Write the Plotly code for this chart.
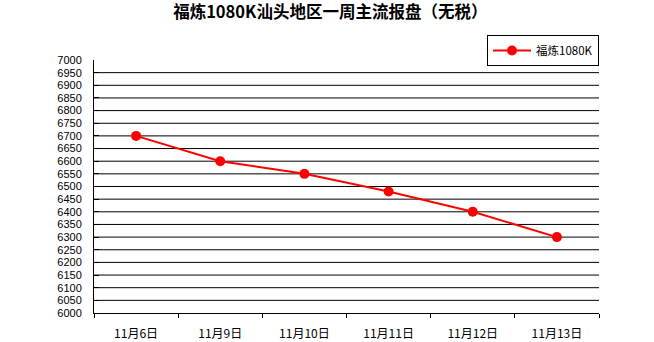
import plotly.graph_objects as go

categories = ["11月6日", "11月9日", "11月10日", "11月11日", "11月12日", "11月13日"]
values = [6700, 6600, 6550, 6480, 6400, 6300]
series_name = "福炼1080K"
title_text = "福炼1080K汕头地区一周主流报盘（无税）"
y_min, y_max, y_step = 6000, 7000, 50

W, H = 654, 342
ml, mr, mt, mb = 94, 55, 60, 29

fig = go.Figure()
fig.add_trace(go.Scatter(
    x=categories, y=values, name=series_name, mode="lines+markers",
    line=dict(color="#FF0000", width=2),
    marker=dict(color="#FF0000", size=10, symbol="circle"),
))

shapes = []
for v in range(y_min + y_step, y_max, y_step):
    shapes.append(dict(type="line", xref="paper", yref="y", x0=0, x1=1, y0=v, y1=v,
                       line=dict(color="black", width=1), layer="below"))

fig.update_layout(
    width=W, height=H,
    margin=dict(l=ml, r=mr, t=mt, b=mb, autoexpand=False),
    paper_bgcolor="white", plot_bgcolor="white",
    title=dict(text="<b>" + title_text + "</b>", xref="container", yref="container",
               x=0.505, xanchor="center", y=1 - 12.5 / H, yanchor="middle",
               font=dict(family="Noto Sans CJK SC", size=16.5, color="black")),
    showlegend=True,
    legend=dict(xref="container", yref="container", x=487 / W, y=1 - 35 / H,
                xanchor="left", yanchor="top",
                bordercolor="black", borderwidth=1, bgcolor="white",
                font=dict(family="Noto Sans CJK SC", size=11.5, color="black"),
                itemwidth=38),
    shapes=shapes,
    xaxis=dict(type="category", range=[-0.5, len(categories) - 0.5], automargin=False,
               showline=True, linecolor="black", linewidth=1, showgrid=False,
               ticks="outside", tickson="boundaries", ticklen=4, tickcolor="black",
               ticklabelstandoff=10,
               tickfont=dict(family="Noto Sans CJK SC", size=12, color="black")),
    yaxis=dict(range=[y_min, y_max], dtick=y_step, tick0=y_min, automargin=False,
               showline=True, linecolor="black", linewidth=1, showgrid=False,
               ticks="inside", ticklen=5, tickcolor="black", zeroline=False,
               ticklabelstandoff=9,
               tickfont=dict(family="Liberation Sans", size=11, color="black")),
)

fig.write_html("out.html", config={"displayModeBar": False},
               post_script="document.body.style.margin='0';")
